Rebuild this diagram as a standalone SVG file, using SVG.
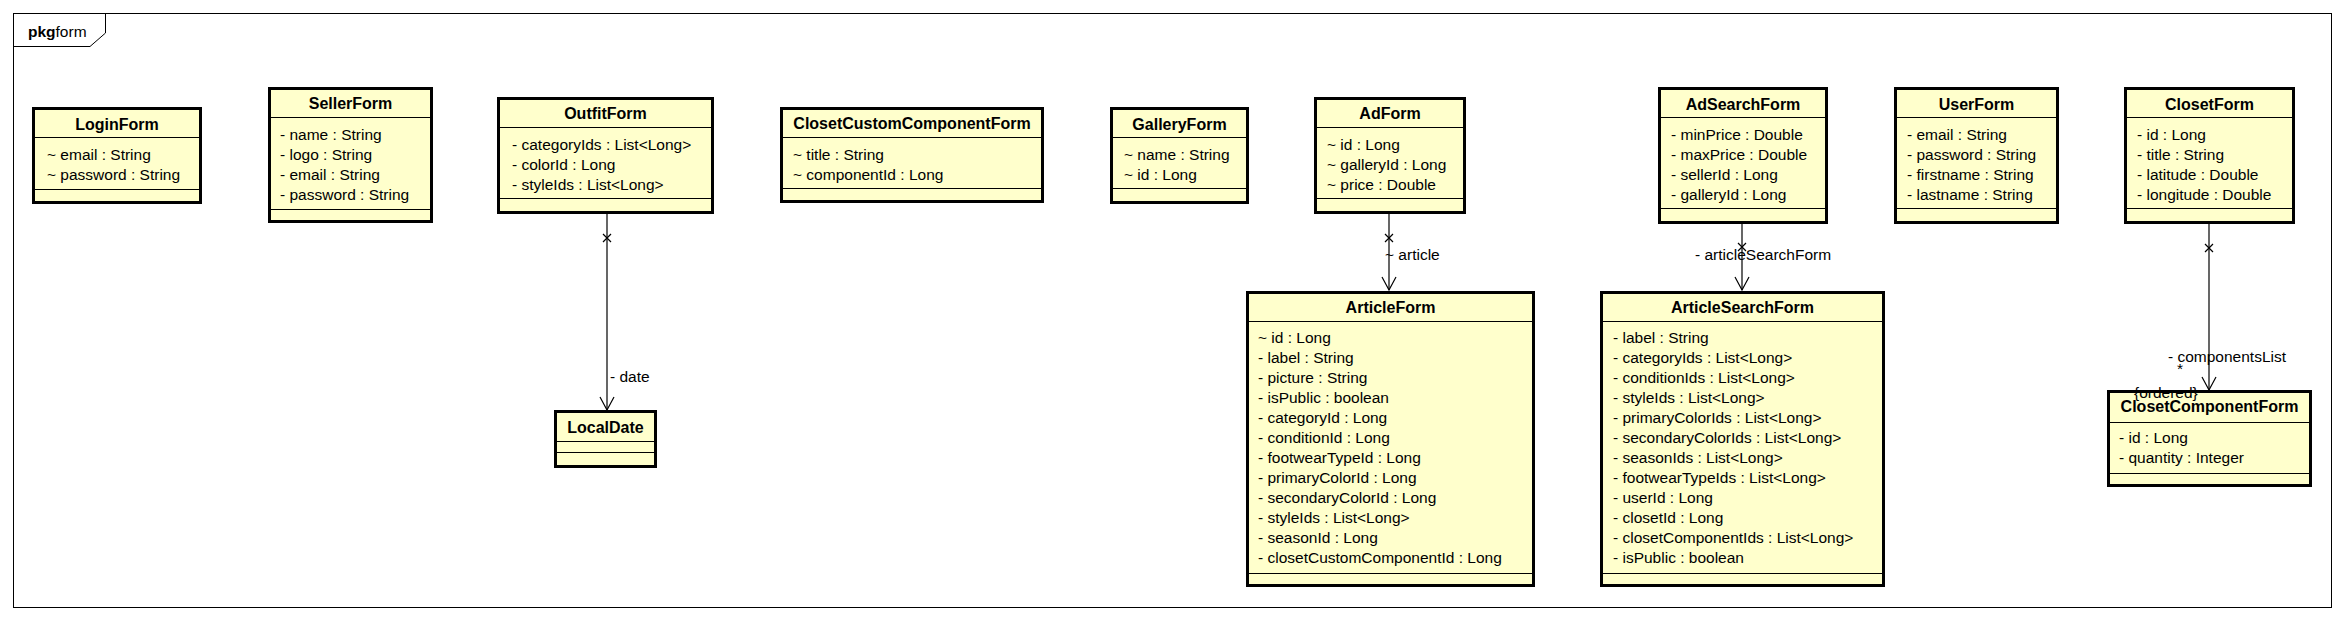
<svg xmlns="http://www.w3.org/2000/svg" width="2345" height="621" viewBox="0 0 2345 621">
<style>
text{font-family:"Liberation Sans",Arial,sans-serif;fill:#000}
.t{font-size:16px;font-weight:bold;text-anchor:middle}
.a{font-size:15.5px}
.box{fill:#ffffcc;stroke:#000;stroke-width:3}
.sep{stroke:#000;stroke-width:1}
.ln{stroke:#000;stroke-width:1.2;fill:none}
</style>
<defs>
<marker id="open" viewBox="0 0 16 16" refX="15" refY="8" markerWidth="16" markerHeight="16" markerUnits="userSpaceOnUse" orient="auto">
<path d="M2,1 L15,8 L2,15" fill="none" stroke="#000" stroke-width="1.2"/>
</marker>
</defs>
<rect x="0" y="0" width="2345" height="621" fill="#fff"/>
<g id="frame">
<rect x="13.5" y="13.5" width="2318" height="594" fill="none" stroke="#000" stroke-width="1"/>
<path d="M13.5,46.5 L90,46.5 L105.5,33 L105.5,13.5" fill="none" stroke="#000" stroke-width="1"/>
<text x="28" y="37" style="font-size:15.5px"><tspan font-weight="bold">pkg</tspan>form</text>
</g>
<g id="LoginForm">
<rect class="box" x="33.5" y="108.5" width="167" height="94"/>
<line class="sep" x1="34" y1="137.5" x2="200" y2="137.5"/>
<line class="sep" x1="34" y1="189.5" x2="200" y2="189.5"/>
<text class="t" x="117" y="130">LoginForm</text>
<text class="a" x="47" y="160">~ email : String</text>
<text class="a" x="47" y="180">~ password : String</text>
</g>
<g id="SellerForm">
<rect class="box" x="269.5" y="88.5" width="162" height="133"/>
<line class="sep" x1="270" y1="117.5" x2="431" y2="117.5"/>
<line class="sep" x1="270" y1="209.5" x2="431" y2="209.5"/>
<text class="t" x="350.5" y="109">SellerForm</text>
<text class="a" x="280" y="140">- name : String</text>
<text class="a" x="280" y="160">- logo : String</text>
<text class="a" x="280" y="180">- email : String</text>
<text class="a" x="280" y="200">- password : String</text>
</g>
<g id="OutfitForm">
<rect class="box" x="498.5" y="98.5" width="214" height="114"/>
<line class="sep" x1="499" y1="127.5" x2="712" y2="127.5"/>
<line class="sep" x1="499" y1="198.5" x2="712" y2="198.5"/>
<text class="t" x="605.5" y="119">OutfitForm</text>
<text class="a" x="512" y="150">- categoryIds : List&lt;Long&gt;</text>
<text class="a" x="512" y="170">- colorId : Long</text>
<text class="a" x="512" y="190">- styleIds : List&lt;Long&gt;</text>
</g>
<g id="ClosetCustomComponentForm">
<rect class="box" x="781.5" y="108.5" width="261" height="93"/>
<line class="sep" x1="782" y1="137.5" x2="1042" y2="137.5"/>
<line class="sep" x1="782" y1="188.5" x2="1042" y2="188.5"/>
<text class="t" x="912" y="129">ClosetCustomComponentForm</text>
<text class="a" x="793" y="160">~ title : String</text>
<text class="a" x="793" y="180">~ componentId : Long</text>
</g>
<g id="GalleryForm">
<rect class="box" x="1111.5" y="108.5" width="136" height="94"/>
<line class="sep" x1="1112" y1="137.5" x2="1247" y2="137.5"/>
<line class="sep" x1="1112" y1="188.5" x2="1247" y2="188.5"/>
<text class="t" x="1179.5" y="130">GalleryForm</text>
<text class="a" x="1124" y="160">~ name : String</text>
<text class="a" x="1124" y="180">~ id : Long</text>
</g>
<g id="AdForm">
<rect class="box" x="1315.5" y="98.5" width="149" height="114"/>
<line class="sep" x1="1316" y1="127.5" x2="1464" y2="127.5"/>
<line class="sep" x1="1316" y1="198.5" x2="1464" y2="198.5"/>
<text class="t" x="1390" y="119">AdForm</text>
<text class="a" x="1327" y="150">~ id : Long</text>
<text class="a" x="1327" y="170">~ galleryId : Long</text>
<text class="a" x="1327" y="190">~ price : Double</text>
</g>
<g id="ArticleForm">
<rect class="box" x="1247.5" y="292.5" width="286" height="293"/>
<line class="sep" x1="1248" y1="321.5" x2="1533" y2="321.5"/>
<line class="sep" x1="1248" y1="573.5" x2="1533" y2="573.5"/>
<text class="t" x="1390.5" y="313">ArticleForm</text>
<text class="a" x="1258" y="343">~ id : Long</text>
<text class="a" x="1258" y="363">- label : String</text>
<text class="a" x="1258" y="383">- picture : String</text>
<text class="a" x="1258" y="403">- isPublic : boolean</text>
<text class="a" x="1258" y="423">- categoryId : Long</text>
<text class="a" x="1258" y="443">- conditionId : Long</text>
<text class="a" x="1258" y="463">- footwearTypeId : Long</text>
<text class="a" x="1258" y="483">- primaryColorId : Long</text>
<text class="a" x="1258" y="503">- secondaryColorId : Long</text>
<text class="a" x="1258" y="523">- styleIds : List&lt;Long&gt;</text>
<text class="a" x="1258" y="543">- seasonId : Long</text>
<text class="a" x="1258" y="563">- closetCustomComponentId : Long</text>
</g>
<g id="AdSearchForm">
<rect class="box" x="1659.5" y="88.5" width="167" height="134"/>
<line class="sep" x1="1660" y1="117.5" x2="1826" y2="117.5"/>
<line class="sep" x1="1660" y1="208.5" x2="1826" y2="208.5"/>
<text class="t" x="1743" y="110">AdSearchForm</text>
<text class="a" x="1671" y="140">- minPrice : Double</text>
<text class="a" x="1671" y="160">- maxPrice : Double</text>
<text class="a" x="1671" y="180">- sellerId : Long</text>
<text class="a" x="1671" y="200">- galleryId : Long</text>
</g>
<g id="ArticleSearchForm">
<rect class="box" x="1601.5" y="292.5" width="282" height="293"/>
<line class="sep" x1="1602" y1="321.5" x2="1883" y2="321.5"/>
<line class="sep" x1="1602" y1="573.5" x2="1883" y2="573.5"/>
<text class="t" x="1742.5" y="313">ArticleSearchForm</text>
<text class="a" x="1613" y="343">- label : String</text>
<text class="a" x="1613" y="363">- categoryIds : List&lt;Long&gt;</text>
<text class="a" x="1613" y="383">- conditionIds : List&lt;Long&gt;</text>
<text class="a" x="1613" y="403">- styleIds : List&lt;Long&gt;</text>
<text class="a" x="1613" y="423">- primaryColorIds : List&lt;Long&gt;</text>
<text class="a" x="1613" y="443">- secondaryColorIds : List&lt;Long&gt;</text>
<text class="a" x="1613" y="463">- seasonIds : List&lt;Long&gt;</text>
<text class="a" x="1613" y="483">- footwearTypeIds : List&lt;Long&gt;</text>
<text class="a" x="1613" y="503">- userId : Long</text>
<text class="a" x="1613" y="523">- closetId : Long</text>
<text class="a" x="1613" y="543">- closetComponentIds : List&lt;Long&gt;</text>
<text class="a" x="1613" y="563">- isPublic : boolean</text>
</g>
<g id="UserForm">
<rect class="box" x="1895.5" y="88.5" width="162" height="134"/>
<line class="sep" x1="1896" y1="117.5" x2="2057" y2="117.5"/>
<line class="sep" x1="1896" y1="208.5" x2="2057" y2="208.5"/>
<text class="t" x="1976.5" y="110">UserForm</text>
<text class="a" x="1907" y="140">- email : String</text>
<text class="a" x="1907" y="160">- password : String</text>
<text class="a" x="1907" y="180">- firstname : String</text>
<text class="a" x="1907" y="200">- lastname : String</text>
</g>
<g id="ClosetForm">
<rect class="box" x="2125.5" y="88.5" width="168" height="134"/>
<line class="sep" x1="2126" y1="117.5" x2="2293" y2="117.5"/>
<line class="sep" x1="2126" y1="208.5" x2="2293" y2="208.5"/>
<text class="t" x="2209.5" y="110">ClosetForm</text>
<text class="a" x="2137" y="140">- id : Long</text>
<text class="a" x="2137" y="160">- title : String</text>
<text class="a" x="2137" y="180">- latitude : Double</text>
<text class="a" x="2137" y="200">- longitude : Double</text>
</g>
<g id="ClosetComponentForm">
<rect class="box" x="2108.5" y="391.5" width="202" height="94"/>
<line class="sep" x1="2109" y1="422.5" x2="2310" y2="422.5"/>
<line class="sep" x1="2109" y1="473.5" x2="2310" y2="473.5"/>
<text class="t" x="2209.5" y="412">ClosetComponentForm</text>
<text class="a" x="2119" y="443">- id : Long</text>
<text class="a" x="2119" y="463">- quantity : Integer</text>
</g>
<g id="LocalDate">
<rect class="box" x="555.5" y="411.5" width="100" height="55"/>
<line class="sep" x1="556" y1="441.5" x2="655" y2="441.5"/>
<line class="sep" x1="556" y1="452.5" x2="655" y2="452.5"/>
<text class="t" x="605.5" y="433">LocalDate</text>
</g>
<g id="connectors">
<line class="ln" x1="607" y1="214" x2="607" y2="410" marker-end="url(#open)"/>
<path class="ln" d="M603,234 L611,242 M611,234 L603,242"/>
<text class="a" x="610" y="382">- date</text>
<line class="ln" x1="1389" y1="214" x2="1389" y2="290" marker-end="url(#open)"/>
<path class="ln" d="M1385,234 L1393,242 M1393,234 L1385,242"/>
<text class="a" x="1385" y="260">~ article</text>
<line class="ln" x1="1742" y1="224" x2="1742" y2="290" marker-end="url(#open)"/>
<path class="ln" d="M1738,243 L1746,251 M1746,243 L1738,251"/>
<text class="a" x="1695" y="260">- articleSearchForm</text>
<line class="ln" x1="2209" y1="224" x2="2209" y2="390" marker-end="url(#open)"/>
<path class="ln" d="M2205,244 L2213,252 M2213,244 L2205,252"/>
<text class="a" x="2168" y="362">- componentsList</text>
<text class="a" x="2177" y="374">*</text>
<text class="a" x="2134" y="398">{ordered}</text>
</g>
</svg>
